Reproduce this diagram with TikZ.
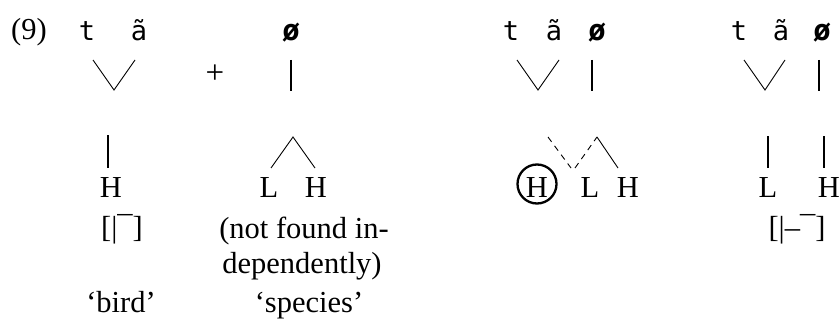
\documentclass[tikz,border=0pt]{standalone}
\usepackage{fontspec}
\setmainfont{Liberation Serif}
\newfontfamily\segfont{DejaVu Sans Mono}
\begin{document}
\begin{tikzpicture}[x=1pt,y=-1pt,
  txt/.style={inner sep=0pt,anchor=base,font=\fontsize{30.5}{36}\selectfont},
  seg/.style={inner sep=0pt,anchor=base,font=\segfont\fontsize{27}{30}\selectfont},
  segb/.style={inner sep=0pt,anchor=base,font=\segfont\bfseries\fontsize{29}{30}\selectfont},
  assoc/.style={line width=0.9pt},
  vbar/.style={line width=1.4pt},
  dashassoc/.style={line width=0.9pt,dash pattern=on 6pt off 5pt}]
\useasboundingbox (0,0) rectangle (840,321);
\node[txt] (ex) at (29,40) {(9)};
% group 1
\node[seg] (t1) at (87,41) {t};
\node[seg] (a1) at (139,41) {ã};
\node[txt,font=\fontsize{33}{36}\selectfont] (plus) at (215,83) {+};
\node[segb] (o1) at (291,41) {ø};
\coordinate (v1l) at (93,60); \coordinate (v1b) at (114,90); \coordinate (v1r) at (135,60);
\draw[assoc] (v1l) -- (v1b) -- (v1r);
\coordinate (o1t) at (291,60); \coordinate (o1b) at (291,91);
\draw[vbar] (o1t) -- (o1b);
\coordinate (h1t) at (108,135); \coordinate (h1b) at (108,168);
\draw[vbar] (h1t) -- (h1b);
\node[txt] (H1) at (111,197) {H};
\coordinate (c1l) at (271,168); \coordinate (c1a) at (293,137); \coordinate (c1r) at (315,168);
\draw[assoc] (c1l) -- (c1a) -- (c1r);
\node[txt] (L2) at (269,197) {L};
\node[txt] (H2) at (316,197) {H};
\node[txt] (br1) at (122,237) {[|¯]};
\node[txt] (nf1) at (304,238) {(not found in-};
\node[txt] (nf2) at (302,273) {dependently)};
\node[txt] (gl1) at (121,312) {‘bird’};
\node[txt] (gl2) at (309,312) {‘species’};
% group 3
\node[seg] (t3) at (511,41) {t};
\node[seg] (a3) at (554,41) {ã};
\node[segb] (o3) at (597,41) {ø};
\coordinate (v3l) at (517,60); \coordinate (v3b) at (538,90); \coordinate (v3r) at (559,60);
\draw[assoc] (v3l) -- (v3b) -- (v3r);
\coordinate (o3t) at (592,60); \coordinate (o3b) at (592,91);
\draw[vbar] (o3t) -- (o3b);
\coordinate (d1a) at (548,137); \coordinate (d1b) at (571,168);
\draw[dashassoc] (d1a) -- (d1b);
\coordinate (d2a) at (575,168); \coordinate (d2b) at (597,137); \coordinate (s3r) at (618,168);
\draw[dashassoc] (d2a) -- (d2b);
\draw[assoc] (d2b) -- (s3r);
\node[txt] (H3) at (537,197) {H};
\node[draw,circle,line width=2.3pt,minimum size=39pt,inner sep=0pt] (circ) at (537,184) {};
\node[txt] (L3) at (590,197) {L};
\node[txt] (H4) at (628,197) {H};
% group 4
\node[seg] (t4) at (739,41) {t};
\node[seg] (a4) at (781,41) {ã};
\node[segb] (o4) at (822,41) {ø};
\coordinate (v4l) at (744,60); \coordinate (v4b) at (765,90); \coordinate (v4r) at (785,60);
\draw[assoc] (v4l) -- (v4b) -- (v4r);
\coordinate (o4t) at (819,60); \coordinate (o4b) at (819,91);
\draw[vbar] (o4t) -- (o4b);
\coordinate (l4t) at (768,136); \coordinate (l4b) at (768,168);
\draw[vbar] (l4t) -- (l4b);
\coordinate (h4t) at (824,136); \coordinate (h4b) at (824,168);
\draw[vbar] (h4t) -- (h4b);
\node[txt] (L5) at (768,197) {L};
\node[txt] (H5) at (829,197) {H};
\node[txt] (br2) at (797,237) {[|–¯]};
\end{tikzpicture}
\end{document}
